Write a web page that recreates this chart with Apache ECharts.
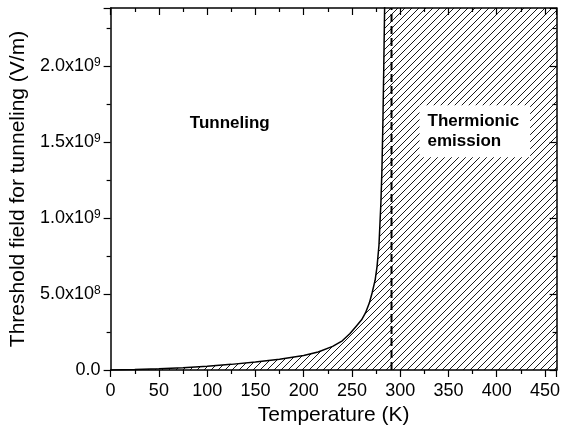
<!DOCTYPE html>
<html>
<head>
<meta charset="utf-8">
<script src="https://cdn.jsdelivr.net/npm/echarts@6/dist/echarts.min.js"></script>
<style>
  html, body { margin: 0; padding: 0; background: #fff; }
  #chart { width: 563px; height: 433px; }
</style>
</head>
<body>
<div id="chart"></div>
<script>
// Threshold field for tunneling vs temperature
var temperatures = [0, 25, 50, 75, 100, 125, 150, 175, 200, 215, 230, 240, 248, 254, 260, 264, 268, 271, 274, 276, 278, 280, 281, 282, 283, 284];
var thresholdField = [0, 3e6, 8e6, 1.5e7, 2.5e7, 3.7e7, 5.2e7, 7e7, 9.5e7, 1.18e8, 1.55e8, 1.92e8, 2.4e8, 2.85e8, 3.3e8, 3.75e8, 4.4e8, 5.1e8, 5.9e8, 6.8e8, 8.2e8, 1.1e9, 1.3e9, 1.6e9, 2.0e9, 2.45e9];
var roomTemperature = 291;           // dashed reference line (K)
var xRange = [0, 462];
var yRange = [0, 2.38e9];
var xTickStep = 50;
var yTickStep = 5e8;
var yTickLabels = { 0: ['0.0', ''], 5e8: ['5.0x10', '8'], 1e9: ['1.0x10', '9'], 1.5e9: ['1.5x10', '9'], 2e9: ['2.0x10', '9'] };
var regionLabels = ['Tunneling', 'Thermionic\nemission'];

var FONT = '"Liberation Sans", Arial, sans-serif';

// diagonal hatch tile
function hatchTile() {
  var s = 7;
  var c = document.createElement('canvas');
  c.width = s; c.height = s;
  var g = c.getContext('2d');
  g.strokeStyle = '#000';
  g.lineWidth = 0.9;
  g.beginPath();
  g.moveTo(-1, s + 1); g.lineTo(s + 1, -1);
  g.moveTo(-1, 1); g.lineTo(1, -1);
  g.moveTo(s - 1, s + 1); g.lineTo(s + 1, s - 1);
  g.stroke();
  return c;
}

var curve = temperatures.map(function (t, i) { return [t, thresholdField[i]]; });
// hatched region: under the curve and everything to its right
var region = curve.concat([[temperatures[temperatures.length - 1], yRange[1] * 1.1], [xRange[1] + 10, yRange[1] * 1.1]]);

var chart = echarts.init(document.getElementById('chart'));

function xAxisDef(pos, inside) {
  return {
    type: 'value', position: pos, min: xRange[0], max: xRange[1], interval: xTickStep,
    axisLine: { show: true, onZero: false, lineStyle: { color: '#000', width: 1.5 } },
    axisTick: { show: true, inside: inside, length: 7, lineStyle: { color: '#000', width: 1.2 } },
    minorTick: { show: true, splitNumber: 2, length: 4, lineStyle: { color: '#000', width: 1.2 } },
    axisLabel: { show: !inside, margin: 12, fontSize: 18, fontFamily: FONT, color: '#000', showMaxLabel: false },
    splitLine: { show: false }, minorSplitLine: { show: false },
    name: inside ? '' : 'Temperature (K)', nameLocation: 'middle', nameGap: 33,
    nameTextStyle: { fontSize: 21, fontFamily: FONT, color: '#000' }
  };
}
function yAxisDef(pos, inside) {
  return {
    type: 'value', position: pos, min: yRange[0], max: yRange[1], interval: yTickStep,
    axisLine: { show: true, onZero: false, lineStyle: { color: '#000', width: 1.5 } },
    axisTick: { show: true, inside: inside, length: 7, lineStyle: { color: '#000', width: 1.2 } },
    minorTick: { show: true, splitNumber: 2, length: 4, lineStyle: { color: '#000', width: 1.2 } },
    axisLabel: {
      show: !inside, margin: 10, fontFamily: FONT, color: '#000', showMaxLabel: false,
      formatter: function (v) {
        var p = yTickLabels[v];
        if (!p) return '';
        return p[1] ? '{m|' + p[0] + '}{s|' + p[1] + '}' : '{m|' + p[0] + '}';
      },
      rich: {
        m: { fontSize: 18, fontFamily: FONT, color: '#000' },
        s: { fontSize: 12, fontFamily: FONT, color: '#000', verticalAlign: 'top' }
      }
    },
    splitLine: { show: false }, minorSplitLine: { show: false },
    name: inside ? '' : 'Threshold field for tunneling (V/m)', nameLocation: 'middle', nameGap: 76,
    nameTextStyle: { fontSize: 21, fontFamily: FONT, color: '#000' }
  };
}

chart.setOption({
  animation: false,
  backgroundColor: '#fff',
  grid: { left: 110, top: 8, right: 3, bottom: 63, containLabel: false },
  xAxis: [xAxisDef('bottom', false), xAxisDef('top', true)],
  yAxis: [yAxisDef('left', false), yAxisDef('right', true)],
  series: [
    {
      type: 'line', data: region, symbol: 'none', clip: true, z: 1,
      lineStyle: { width: 0, opacity: 0 },
      areaStyle: { color: { image: hatchTile(), repeat: 'repeat' }, opacity: 1, origin: 'start' }
    },
    {
      type: 'line', data: curve, symbol: 'none', clip: true, z: 3,
      lineStyle: { color: '#000', width: 1.5 }
    },
    {
      type: 'line', data: [[roomTemperature, yRange[0]], [roomTemperature, yRange[1]]], symbol: 'none', clip: true, z: 2,
      lineStyle: { color: '#000', width: 2, type: [8, 4] }
    }
  ]
});

// region annotations placed in data coordinates
var p1 = chart.convertToPixel({ gridIndex: 0 }, [82, 1.62e9]);
var p2 = chart.convertToPixel({ gridIndex: 0 }, [320, 1.57e9]);
chart.setOption({
  graphic: [
    {
      type: 'text', x: p1[0], y: p1[1], z: 10,
      style: { text: regionLabels[0], font: 'bold 17px ' + FONT, fill: '#000', verticalAlign: 'middle', align: 'left' }
    },
    {
      type: 'text', x: p2[0], y: p2[1], z: 10,
      style: {
        text: regionLabels[1], font: 'bold 17px ' + FONT, fill: '#000', lineHeight: 20,
        verticalAlign: 'middle', align: 'left', backgroundColor: '#fff', padding: [6, 11, 6, 8]
      }
    }
  ]
});
</script>
</body>
</html>
